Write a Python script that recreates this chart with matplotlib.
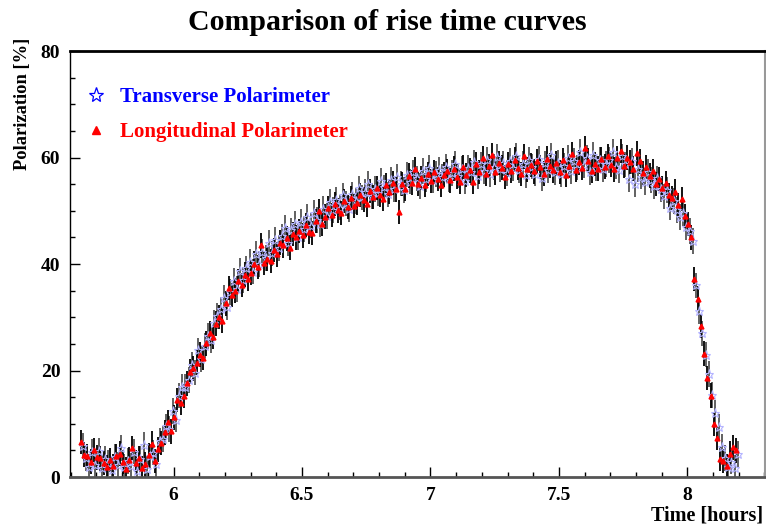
import numpy as np
import matplotlib
matplotlib.use("Agg")
from matplotlib import pyplot as plt
from matplotlib.lines import Line2D
from matplotlib.ticker import MultipleLocator

# polarization [%], one value per 0.0125 h, 5.64 h .. 8.19 h
long_pol = [
    6.6, 4.2, 4.0, 2.9, 5.1, 3.7, 3.5, 2.6,
    1.8, 3.2, 2.0, 4.0, 4.4, 2.8, 1.5, 3.3,
    5.5, 2.7, 3.6, 1.7, 2.4, 4.1, 6.3, 3.0,
    5.2, 6.4, 8.4, 10.3, 8.6, 11.2, 14.5, 13.9,
    15.2, 17.6, 19.8, 20.4, 21.5, 23.0, 22.4, 25.1,
    27.0, 26.3, 28.8, 30.1, 29.4, 32.6, 35.5, 34.2,
    35.0, 36.8, 36.1, 38.0, 37.2, 38.4, 40.1, 39.4,
    43.5, 40.2, 41.0, 40.6, 42.6, 41.8, 44.0, 43.5,
    44.8, 43.1, 45.6, 45.0, 46.2, 45.4, 47.3, 46.0,
    45.8, 48.1, 50.0, 47.6, 48.9, 50.5, 49.2, 51.3,
    50.1, 49.6, 51.8, 50.7, 52.4, 50.9, 51.5, 53.0,
    52.1, 51.2, 53.7, 52.6, 54.3, 53.0, 52.2, 54.8,
    53.5, 55.2, 54.0, 49.8, 55.0, 54.1, 56.6, 55.3,
    57.8, 55.0, 56.2, 54.8, 56.9, 55.6, 57.3, 56.0,
    54.9, 56.8, 57.5, 55.7, 57.9, 56.4, 55.5, 58.2,
    56.7, 57.6, 55.4, 58.8, 57.3, 59.9, 57.0, 58.4,
    60.5, 57.2, 59.0, 58.1, 56.3, 58.7, 57.5, 59.6,
    58.0, 56.9, 60.2, 57.8, 58.6, 57.4, 59.3, 58.2,
    57.0, 59.8, 58.5, 57.6, 58.9, 57.3, 59.5, 56.8,
    58.4, 60.6, 57.7, 59.1, 58.0, 61.8, 59.4, 57.5,
    58.8, 57.9, 59.7, 58.3, 60.3, 58.6, 57.8, 59.9,
    61.2, 58.4, 60.0, 59.2, 57.9, 60.8, 59.3, 57.1,
    58.2, 56.6, 57.4, 55.0, 56.0, 54.3, 55.2, 53.0,
    52.4, 53.6, 51.0, 52.2,
    49.0, 47.5, 45.0, 37.2, 33.5, 28.4, 23.2, 18.6,
    15.3, 10.0, 7.3, 3.4, 3.0, 2.1, 4.4, 5.6, 5.0,
]

trans_pol = [
    5.8, 3.6, 1.9, 4.7, 2.2, 4.9, 1.7, 3.4,
    2.6, 1.4, 3.8, 2.3, 5.5, 1.9, 3.0, 2.1,
    4.8, 1.2, 3.4, 6.0, 1.6, 3.9, 4.6, 2.5,
    6.8, 7.2, 9.5, 9.0, 12.4, 10.8, 15.3, 16.9,
    17.0, 18.2, 21.1, 19.6, 23.8, 22.2, 24.6, 26.5,
    25.7, 28.9, 30.2, 31.5, 33.6, 31.9, 34.8, 36.9,
    35.3, 38.7, 37.0, 39.2, 40.4, 38.6, 41.9, 40.0,
    42.3, 41.1, 43.9, 42.0, 44.5, 43.0, 45.2, 46.8,
    44.0, 46.3, 47.5, 45.1, 47.9, 46.6, 48.8, 47.2,
    49.6, 48.3, 47.5, 50.4, 49.0, 51.6, 50.2, 52.0,
    50.6, 52.9, 51.4, 50.3, 53.1, 51.8, 54.2, 52.5,
    53.6, 55.0, 52.8, 54.1, 53.3, 55.6, 54.4, 53.1,
    55.8, 54.0, 56.3, 55.1, 53.9, 56.8, 55.5, 57.2,
    56.1, 54.7, 57.5, 56.0, 58.1, 55.8, 56.9, 57.7,
    56.4, 58.3, 55.9, 57.1, 58.8, 56.6, 57.9, 55.6,
    58.0, 57.2, 59.1, 56.5, 58.7, 57.4, 59.6, 56.9,
    58.2, 60.1, 57.8, 58.9, 57.1, 59.4, 58.0, 60.3,
    57.6, 58.8, 56.7, 59.5, 58.3, 57.0, 59.8, 56.2,
    58.9, 57.7, 60.4, 57.3, 59.0, 56.9, 58.5, 60.0,
    57.5, 59.3, 58.1, 61.0, 58.6, 59.9, 57.2, 60.5,
    58.0, 59.6, 57.9, 58.8, 59.5, 61.0, 58.3, 57.6,
    60.2, 58.7, 56.0, 59.4, 55.0, 57.8, 56.4, 55.4,
    57.3, 55.8, 54.6, 56.1, 54.0, 52.7, 53.9, 50.6,
    51.8, 50.2, 48.8, 49.6,
    47.0, 46.2, 44.3, 36.0, 31.2, 27.0, 23.0, 19.4,
    15.4, 12.1, 9.4, 5.6, 3.6, 1.8, 2.9, 1.7, 4.3,
]

long_err = 2.3
trans_err = 2.4

long_time = np.linspace(5.64, 8.19, len(long_pol))
trans_time = np.linspace(5.646, 8.196, len(trans_pol))

serif = ["Liberation Serif", "DejaVu Serif"]
plt.rcParams['font.family'] = serif
plt.rcParams['font.weight'] = 'bold'

fig = plt.figure(figsize=(7.66, 5.26), dpi=100)
ax = fig.add_axes([0.0914, 0.093, 0.9073, 0.810])

ax.errorbar(trans_time, trans_pol, yerr=trans_err, fmt='none',
            ecolor='#555555', elinewidth=1.3, zorder=2)
ax.errorbar(long_time, long_pol, yerr=long_err, fmt='none',
            ecolor='black', elinewidth=1.3, zorder=2)
ax.plot(trans_time, trans_pol, linestyle='none', marker='*', markersize=6.5,
        markerfacecolor='none', markeredgecolor='#b4b4ff', markeredgewidth=0.8,
        zorder=3)
ax.plot(long_time, long_pol, linestyle='none', marker='^', markersize=3.5,
        color='#ff0000', zorder=4)

ax.set_xlim(5.597, 8.302)
ax.set_ylim(0, 80)

ax.xaxis.set_major_locator(MultipleLocator(0.5))
ax.xaxis.set_minor_locator(MultipleLocator(0.1))
ax.yaxis.set_major_locator(MultipleLocator(20))
ax.yaxis.set_minor_locator(MultipleLocator(5))
ax.xaxis.set_major_formatter(plt.FuncFormatter(lambda v, p: f"{v:g}"))

ax.tick_params(which='both', direction='in', top=False, right=False,
               labelsize=14)
ax.tick_params(which='major', length=7, width=1)
ax.tick_params(which='minor', length=3.5, width=1)
ax.tick_params(axis='x', pad=7)
ax.tick_params(axis='y', pad=7)

ax.spines['top'].set_linewidth(2)
ax.spines['left'].set_linewidth(1)
ax.spines['bottom'].set_color('#555555')
ax.spines['bottom'].set_linewidth(2)
ax.spines['right'].set_color('#999999')
ax.spines['right'].set_linewidth(1.5)

fig.suptitle("Comparison of rise time curves", fontsize=21.5,
             fontweight='bold', x=0.506, y=0.982)
ax.set_ylabel("Polarization [%]", fontsize=13.3, fontweight='bold',
              loc='top', labelpad=12)
ax.yaxis.set_label_coords(-0.056, 1.03)
ax.set_xlabel("Time [hours]", fontsize=14.5, fontweight='bold', loc='right',
              labelpad=2)
ax.xaxis.set_label_coords(0.9975, -0.066)

handles = [
    Line2D([], [], linestyle='none', marker='*', markersize=11,
           markerfacecolor='none', markeredgecolor='#0000ff',
           markeredgewidth=0.9),
    Line2D([], [], linestyle='none', marker='^', markersize=6,
           color='#ff0000'),
]
ax.legend(handles, ["Transverse Polarimeter", "Longitudinal Polarimeter"],
          loc='upper left', bbox_to_anchor=(-0.008, 0.96), frameon=False,
          labelcolor=['#0000ff', '#ff0000'], handlelength=1.2,
          handletextpad=0.55, labelspacing=0.72,
          prop={'family': serif, 'weight': 'bold', 'size': 15})

fig.savefig("out.png", dpi=100)
